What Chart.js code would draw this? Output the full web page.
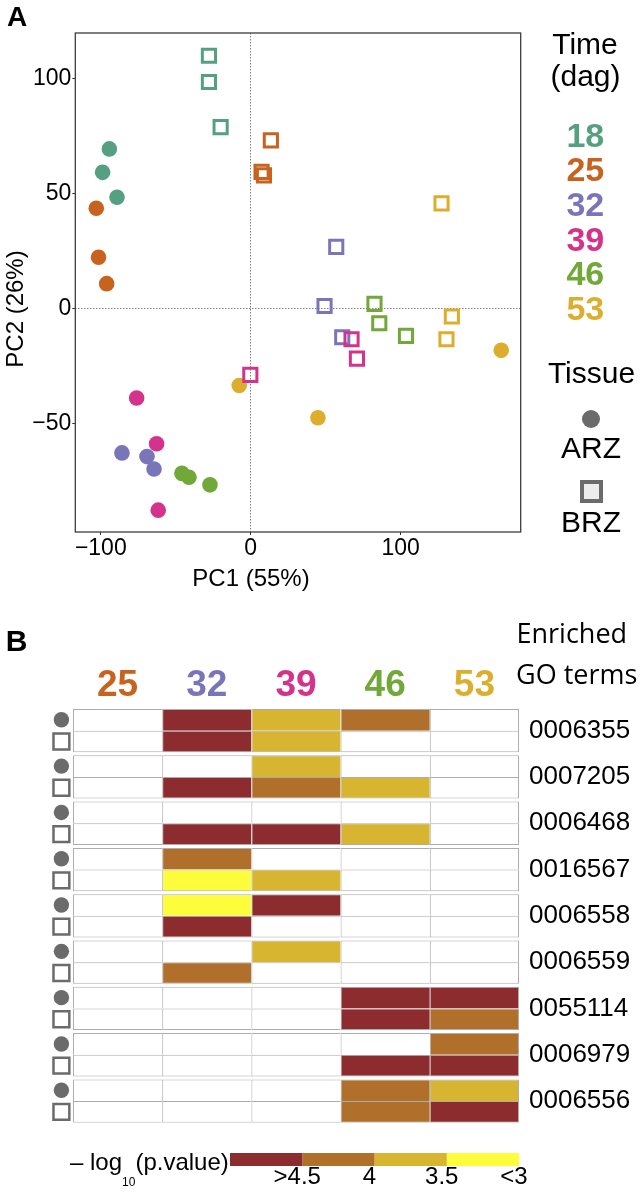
<!DOCTYPE html>
<html>
<head>
<meta charset="utf-8">
<script src="https://cdn.jsdelivr.net/npm/chart.js@4.4.1/dist/chart.umd.min.js"></script>
<style>
html,body{margin:0;padding:0;background:#fff;}
#wrap{position:relative;width:641px;height:1192px;overflow:hidden;font-family:'Liberation Sans',Arial,sans-serif;color:#000;background:#fff;}
canvas{position:absolute;left:0;}
.t{position:absolute;white-space:nowrap;line-height:1.15;transform:translate(-50%,-50%);}
.l{position:absolute;white-space:nowrap;line-height:1.15;transform:translateY(-50%);}
.num{font-weight:bold;font-size:34px;}
</style>
</head>
<body>
<div id="wrap">
<canvas id="pca" width="641" height="600" style="top:0"></canvas>
<canvas id="heat" width="641" height="560" style="top:600px"></canvas>
<canvas id="cbar" width="641" height="52" style="top:1140px"></canvas>

<div class="t" style="left:17px;top:16.7px;font-weight:bold;font-size:28px;">A</div>
<div class="t" style="left:251px;top:578px;font-size:24px;">PC1 (55%)</div>
<div class="t" style="left:15px;top:308.5px;font-size:24px;transform:translate(-50%,-50%) rotate(-90deg);">PC2 (26%)</div>

<div class="t" style="left:585px;top:44.2px;font-size:30px;">Time</div>
<div class="t" style="left:585.5px;top:76.3px;font-size:30px;">(dag)</div>
<div id="timeLegend"></div>
<div class="t" style="left:591.5px;top:372.5px;font-size:30px;">Tissue</div>
<div style="position:absolute;left:581.7px;top:410px;width:18px;height:18px;border-radius:50%;background:#6b6b6b;"></div>
<div class="t" style="left:591px;top:448.3px;font-size:30px;">ARZ</div>
<div style="position:absolute;left:580px;top:480.2px;width:14.7px;height:14.7px;border:4px solid #6b6b6b;background:#ececec;"></div>
<div class="t" style="left:591px;top:521.7px;font-size:30px;">BRZ</div>

<div class="t" style="left:16.7px;top:641.3px;font-weight:bold;font-size:30px;">B</div>
<div class="l" style="left:516.5px;top:633.2px;font-size:27px;font-family:'Open Sans',sans-serif;">Enriched</div>
<div class="l" style="left:516px;top:674.2px;font-size:27px;font-family:'Open Sans',sans-serif;">GO terms</div>

<div class="l" style="left:70px;top:1161.7px;font-size:24px;">– log<span style="font-size:12px;position:relative;top:16.7px;">10</span>(p.value)</div>
</div>

<script>
// ---------- Panel A data ----------
const times = ['18', '25', '32', '39', '46', '53'];
const pc1ARZ = [[-94.3, -98.8, -89.2], [-103, -101.5, -96.1], [-85.9, -69.2, -64.5], [-76.1, -62.8, -61.7], [-45.9, -41.2, -27.2], [-7.7, 44.8, 167]];
const pc2ARZ = [[69.3, 59.1, 48.3], [43.5, 22.2, 10.7], [-62.9, -64.5, -69.9], [-39, -58.9, -87.8], [-71.8, -73.5, -76.8], [-33.6, -47.6, -18.3]];
const pc1BRZ = [[-27.9, -27.9, -20.1], [13.4, 7.2, 8.8], [57, 49.2, 61], [-0.3, 67.2, 70.8], [82.5, 85.7, 103.5], [127.2, 134.1, 130.5]];
const pc2BRZ = [[109.8, 98.4, 78.8], [73, 59.3, 57.8], [26.7, 1, -12.6], [-29, -13.5, -21.9], [1.9, -6.5, -12], [45.6, -3.6, -13.5]];
const xTickValues = [-100, 0, 100];
const xTickLabels = ['\u2212100', '0', '100'];
const yTickValues = [-50, 0, 50, 100];
const yTickLabels = ['\u221250', '0', '50', '100'];

// ---------- Panel B data ----------
const heatTimes = ['25', '32', '39', '46', '53'];
const goTerms = ['0006355', '0007205', '0006468', '0016567', '0006558', '0006559', '0055114', '0006979', '0006556'];
// level codes: 0 = not enriched, 1 = >4.5, 2 = 4, 3 = 3.5, 4 = <3
const heatARZ = [[0,1,3,2,0],[0,0,3,0,0],[0,0,0,0,0],[0,2,0,0,0],[0,4,1,0,0],[0,0,3,0,0],[0,0,0,1,1],[0,0,0,0,2],[0,0,0,2,3]];
const heatBRZ = [[0,1,3,0,0],[0,1,2,3,0],[0,1,1,3,0],[0,4,3,0,0],[0,1,0,0,0],[0,2,0,0,0],[0,0,0,1,2],[0,0,0,1,1],[0,0,0,2,1]];
const cbarLabels = ['>4.5', '4', '3.5', '<3'];

// ---------- styles ----------
const FONT = "'Liberation Sans', Arial, sans-serif";
Chart.defaults.font.family = FONT;
Chart.defaults.color = '#000';
const timeColors = ['#55a081', '#c8621f', '#7a75b8', '#d4338b', '#72a83a', '#ddae2d'];
const levelColors = ['#ffffff', '#8c2c2f', '#b06f2a', '#d7b531', '#fdfd3c'];
const heatHeaderColors = timeColors.slice(1);

// time legend (HTML)
const tl = document.getElementById('timeLegend');
times.forEach((t, i) => {
  const d = document.createElement('div');
  d.className = 't num';
  d.style.left = '585.3px';
  d.style.top = (135.8 + 34.6 * i) + 'px';
  d.style.color = timeColors[i];
  d.textContent = t;
  tl.appendChild(d);
});

// ---------- Panel A chart ----------
const framePlugin = {
  id: 'frame',
  afterDatasetsDraw(chart) {
    const {ctx, chartArea: a} = chart;
    ctx.save();
    ctx.strokeStyle = '#3c3c3c';
    ctx.lineWidth = 1.3;
    ctx.strokeRect(a.left, a.top, a.right - a.left, a.bottom - a.top);
    ctx.restore();
  }
};

const pcaSets = [];
times.forEach((t, i) => {
  pcaSets.push({
    label: t + ' BRZ',
    data: pc1BRZ[i].map((x, j) => ({x: x, y: pc2BRZ[i][j]})),
    pointStyle: 'rect', pointRadius: 9.3, pointHoverRadius: 9.3,
    pointBorderWidth: 3, pointBorderColor: timeColors[i],
    pointBackgroundColor: 'rgba(0,0,0,0)',
    order: 5 - i
  });
  pcaSets.push({
    label: t + ' ARZ',
    data: pc1ARZ[i].map((x, j) => ({x: x, y: pc2ARZ[i][j]})),
    pointStyle: 'circle', pointRadius: 7.8, pointHoverRadius: 7.8,
    pointBorderWidth: 0, pointBackgroundColor: timeColors[i],
    order: 15 - i
  });
});

const zeroGrid = ctx => (ctx.tick && ctx.tick.value === 0) ? '#808080' : 'rgba(0,0,0,0)';

new Chart(document.getElementById('pca'), {
  type: 'scatter',
  data: {datasets: pcaSets},
  plugins: [framePlugin],
  options: {
    responsive: false, animation: false, events: [],
    devicePixelRatio: 1,
    layout: {padding: {left: 30, top: 33, right: 120.3, bottom: 0}},
    plugins: {legend: {display: false}, tooltip: {enabled: false}},
    scales: {
      x: {
        type: 'linear', min: -117, max: 180, position: 'bottom',
        afterBuildTicks: s => { s.ticks = xTickValues.map(v => ({value: v})); },
        afterFit: s => { s.height = 68; },
        grid: {color: zeroGrid, lineWidth: 1, tickColor: '#333', tickLength: 3, tickWidth: 1},
        border: {display: false, dash: [1.5, 1.5]},
        ticks: {callback: (v, i) => xTickLabels[i], font: {size: 23, lineHeight: 1}, color: '#000', padding: 2, maxRotation: 0, autoSkip: false}
      },
      y: {
        type: 'linear', min: -97.3, max: 119.7, position: 'left',
        afterBuildTicks: s => { s.ticks = yTickValues.map(v => ({value: v})); },
        afterFit: s => { s.width = 45.3; },
        grid: {color: zeroGrid, lineWidth: 1, tickColor: '#333', tickLength: 3, tickWidth: 1},
        border: {display: false, dash: [1.5, 1.5]},
        ticks: {callback: (v, i) => yTickLabels[i], font: {size: 23, lineHeight: 1}, color: '#000', padding: 1, autoSkip: false}
      }
    }
  }
});

// ---------- Panel B heatmap ----------
const blockGap = 0.14;                 // gap between GO-term blocks, in row units
const yMax = goTerms.length * 2 + (goTerms.length - 1) * blockGap;
const rowCenter = (b, r) => b * (2 + blockGap) + r + 0.5;
const blockCenter = b => b * (2 + blockGap) + 1;

const cells = [];
goTerms.forEach((g, b) => {
  [heatARZ[b], heatBRZ[b]].forEach((row, r) => {
    row.forEach((lvl, c) => {
      cells.push({x: [c, c + 1], y: rowCenter(b, r), level: lvl, c: c, r: r});
    });
  });
});
const arzMarks = goTerms.map((g, b) => ({x: -0.13, y: rowCenter(b, 0)}));
const brzMarks = goTerms.map((g, b) => ({x: -0.13, y: rowCenter(b, 1)}));

new Chart(document.getElementById('heat'), {
  type: 'bar',
  data: {
    datasets: [
      {
        type: 'scatter', data: arzMarks, indexAxis: 'x',
        pointStyle: 'circle', pointRadius: 7.7, pointHoverRadius: 7.7,
        pointBorderWidth: 0, pointBackgroundColor: '#6b6b6b', order: 0
      },
      {
        type: 'scatter', data: brzMarks, indexAxis: 'x',
        pointStyle: 'rect', pointRadius: 11.2, pointHoverRadius: 11.2,
        pointBorderWidth: 2.5, pointBorderColor: '#6b6b6b', pointBackgroundColor: '#ffffff', order: 0
      },
      {
        type: 'bar', data: cells,
        backgroundColor: ctx => ctx.raw ? levelColors[ctx.raw.level] : '#fff',
        borderColor: '#adadad',
        borderWidth: ctx => ctx.raw ? {top: 1, left: 1, right: ctx.raw.c === 4 ? 1 : 0, bottom: ctx.raw.r === 1 ? 1 : 0} : 1,
        borderSkipped: false, inflateAmount: 0,
        barPercentage: 1, categoryPercentage: 1, order: 1
      }
    ]
  },
  options: {
    indexAxis: 'y',
    responsive: false, animation: false, events: [],
    devicePixelRatio: 1,
    layout: {autoPadding: false, padding: {left: 46.24, top: 49, right: 0, bottom: 37.3}},
    plugins: {legend: {display: false}, tooltip: {enabled: false}},
    scales: {
      x: {
        type: 'linear', min: -0.3, max: 5, position: 'top', offset: false,
        afterBuildTicks: s => { s.ticks = heatTimes.map((t, i) => ({value: i + 0.5})); },
        afterFit: s => { s.height = 60; },
        grid: {display: false, drawTicks: false, offset: false}, border: {display: false},
        ticks: {
          callback: (v, i) => heatTimes[i],
          color: ctx => heatHeaderColors[ctx.index],
          font: {size: 37, weight: 'bold', lineHeight: 1},
          padding: 5, maxRotation: 0, autoSkip: false
        }
      },
      y: {
        type: 'linear', min: 0, max: yMax, reverse: true, position: 'right', offset: false,
        afterBuildTicks: s => { s.ticks = goTerms.map((g, b) => ({value: blockCenter(b)})); },
        afterFit: s => { s.width = 122; },
        grid: {display: false, drawTicks: false, offset: false}, border: {display: false},
        ticks: {callback: (v, i) => goTerms[i], font: {size: 26, lineHeight: 1}, color: '#000', padding: 10, autoSkip: false, crossAlign: 'near'}
      }
    }
  }
});

// ---------- colour bar ----------
new Chart(document.getElementById('cbar'), {
  type: 'bar',
  data: {
    labels: ['p'],
    datasets: cbarLabels.map((lab, i) => ({
      label: lab, data: [1], backgroundColor: levelColors[i + 1],
      borderWidth: 0, inflateAmount: 0, barPercentage: 1, categoryPercentage: 1
    }))
  },
  options: {
    indexAxis: 'y',
    responsive: false, animation: false, events: [],
    devicePixelRatio: 1,
    layout: {autoPadding: false, padding: {left: 230, top: 13, right: 122, bottom: 0}},
    plugins: {legend: {display: false}, tooltip: {enabled: false}},
    scales: {
      x: {
        stacked: true, type: 'linear', min: 0, max: cbarLabels.length, position: 'bottom',
        afterBuildTicks: s => { s.ticks = cbarLabels.map((l, i) => ({value: i + 1})); },
        afterFit: s => { s.height = 26; },
        grid: {display: false, drawTicks: false}, border: {display: false},
        ticks: {callback: (v, i) => cbarLabels[i], font: {size: 24, lineHeight: 0.92}, color: '#000', padding: 0, labelOffset: -5, maxRotation: 0, autoSkip: false}
      },
      y: {stacked: true, display: false}
    }
  }
});
</script>
</body>
</html>
